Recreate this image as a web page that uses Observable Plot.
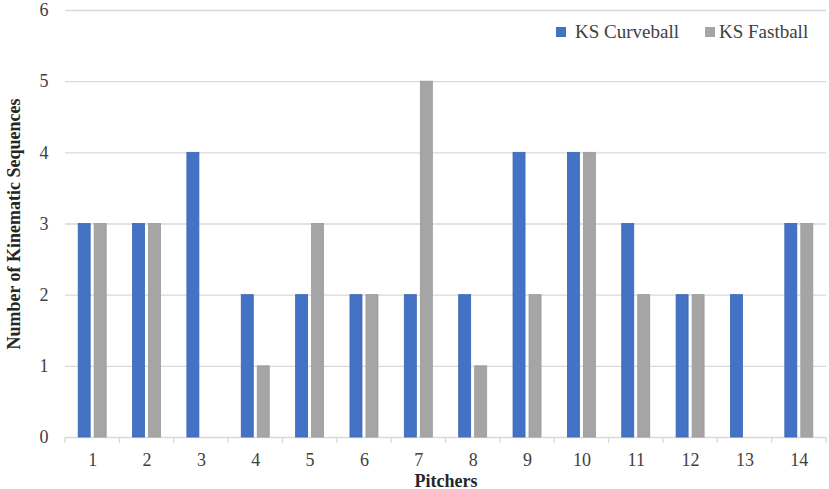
<!DOCTYPE html>
<html><head><meta charset="utf-8">
<script src="https://cdn.jsdelivr.net/npm/d3@7"></script>
<script src="https://cdn.jsdelivr.net/npm/@observablehq/plot@0.6"></script>
<style>
body{margin:0;background:#fff;font-family:'Liberation Serif','Times New Roman',Times,serif;}
#wrap{position:relative;width:829px;height:489px;}
#legend{position:absolute;top:21px;left:556px;font-family:'Liberation Serif','Times New Roman',Times,serif;font-size:19px;color:#404040;display:flex;align-items:center;white-space:nowrap;}
.sw{display:inline-block;width:10px;height:10px;margin-right:9px;}
svg text{font-family:'Liberation Serif','Times New Roman',Times,serif;}
</style></head>
<body><div id="wrap"><div id="legend">
<span class="sw" style="background:#4472C4"></span><span style="margin-right:26px">KS Curveball</span>
<span class="sw" style="background:#A5A5A5;margin-right:4px"></span><span>KS Fastball</span>
</div></div>
<script>
const pitchers = ["1","2","3","4","5","6","7","8","9","10","11","12","13","14"];
const series = ["KS Curveball","KS Fastball"];
const curveball = [3,3,4,2,2,2,2,2,4,4,3,2,2,3];
const fastball  = [3,3,0,1,3,2,5,1,2,4,2,2,0,3];
const colors = ["#4472C4","#A5A5A5"];
const strokes = ["#3A65B4","#999999"];
const yTicks = [0,1,2,3,4,5,6];

const data = [];
pitchers.forEach((p,i)=>{
  data.push({pitcher:p, series:series[0], value:curveball[i]});
  data.push({pitcher:p, series:series[1], value:fastball[i]});
});

const W = 829, H = 489;
const mL = 65, mR = 3;
const step = (W - mL - mR) / pitchers.length;
const barW = 12, off = 8;
const inset = (step - barW) / 2;
const FONT = "'Liberation Serif','Times New Roman',Times,serif";

const plot = Plot.plot({
  width: W, height: H,
  marginLeft: mL, marginRight: mR, marginTop: 10, marginBottom: 52,
  style: {fontFamily: FONT, fontSize: "18px", color: "#404040", background: "#fff"},
  x: {domain: pitchers, padding: 0, round: false, label: null},
  y: {domain: [0,6], ticks: yTicks, label: null},
  marks: [
    Plot.gridY(yTicks.slice(1), {stroke: "#D9D9D9", strokeOpacity: 1, strokeWidth: 1.3}),
    Plot.ruleY([0], {stroke: "#D9D9D9", strokeWidth: 1.3}),
    Plot.barY(data.filter(d=>d.series===series[0]), {x:"pitcher", y:"value", fill: colors[0], stroke: strokes[0], strokeWidth: 0.8, dx: -off, insetLeft: inset, insetRight: inset}),
    Plot.barY(data.filter(d=>d.series===series[1]), {x:"pitcher", y:"value", fill: colors[1], stroke: strokes[1], strokeWidth: 0.8, dx: off, insetLeft: inset, insetRight: inset}),
    Plot.axisY(yTicks, {tickSize: 0, tickPadding: 17, fontSize: 18, fill:"#404040", tickFormat: d3.format("d"),
      label: "Number of Kinematic Sequences", labelAnchor: "center", labelArrow: "none", labelOffset: 58}),
    Plot.axisX({tickSize: 0, tickPadding: 16, fontSize: 18, fill:"#404040", label: "Pitchers", labelAnchor:"center", labelArrow:"none", labelOffset: 49})
  ]
});

plot.querySelectorAll("g[aria-label='y-axis label'], g[aria-label='x-axis label']").forEach(n=>{
  n.setAttribute("font-weight","bold"); n.setAttribute("fill","#262626"); n.setAttribute("font-size","18");
});

// category boundary ticks on x axis
const xs = plot.scale("x");
const ys = plot.scale("y");
const y0 = ys.apply(0);
const svg = d3.select(plot);
const bounds = pitchers.map(p=>xs.apply(p)).concat([xs.apply(pitchers[pitchers.length-1]) + xs.bandwidth]);
svg.append("g").selectAll("line").data(bounds).join("line")
  .attr("x1", d=>d).attr("x2", d=>d).attr("y1", y0).attr("y2", y0+6)
  .attr("stroke", "#D9D9D9").attr("stroke-width", 1.3);

document.getElementById("wrap").prepend(plot);
</script>
</body></html>
